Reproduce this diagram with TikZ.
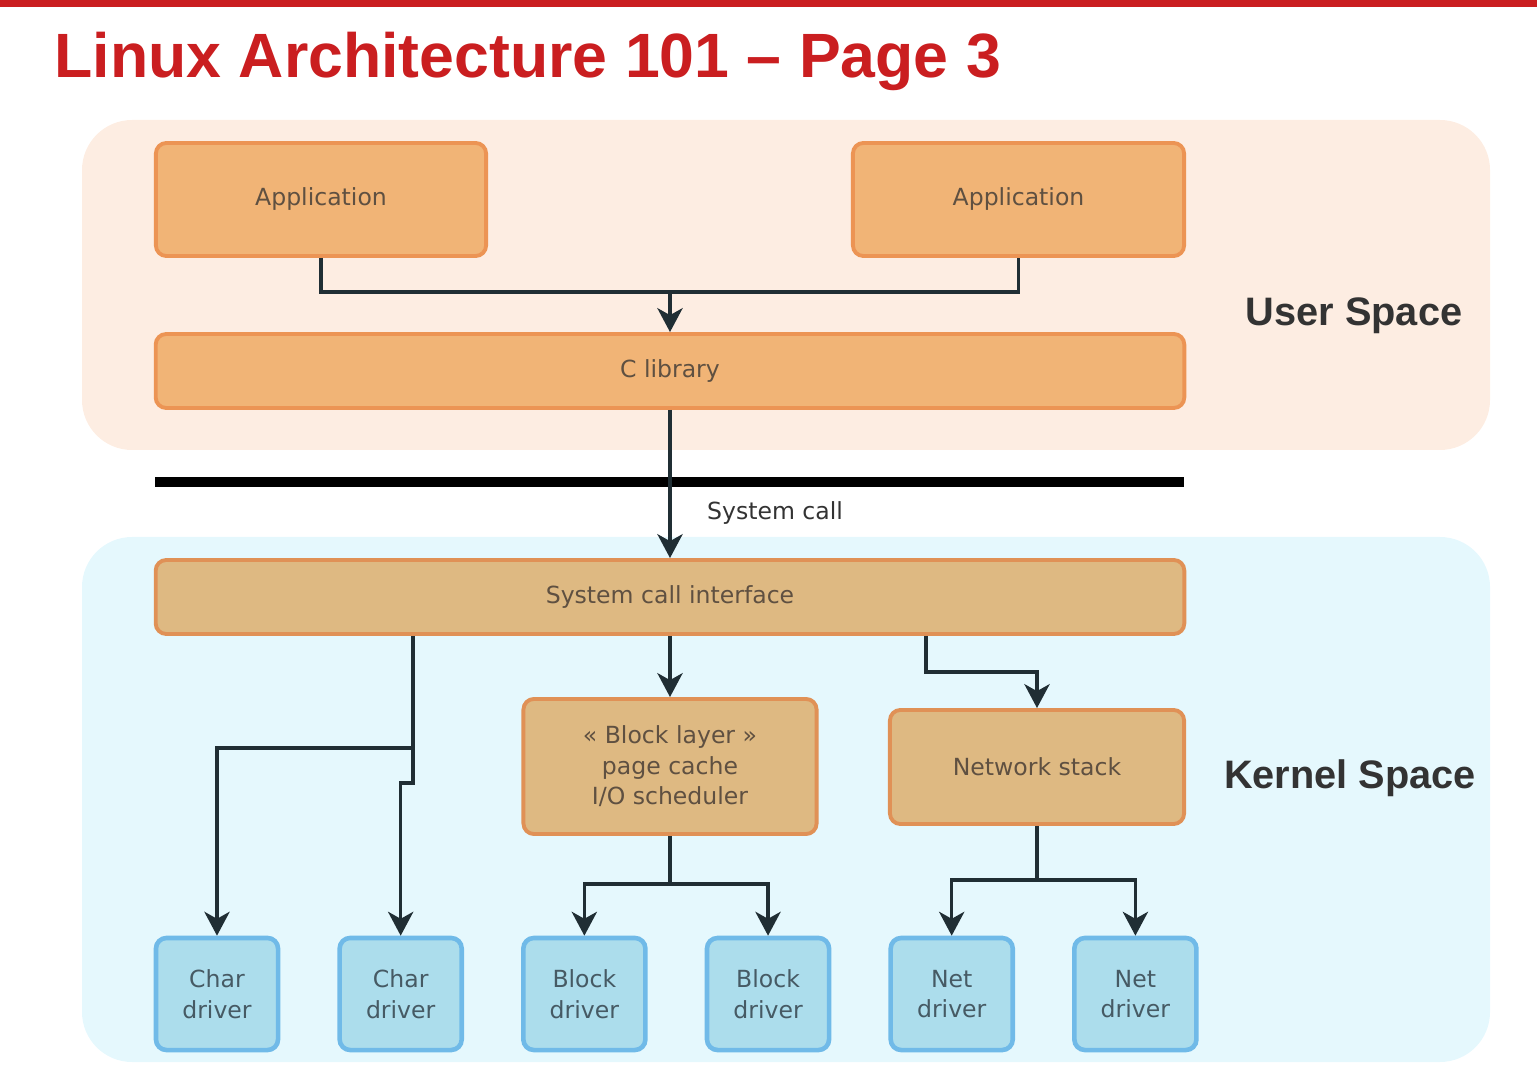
\documentclass[tikz,border=0pt]{standalone}
\usepackage{fontspec}
\setmainfont{DejaVu Sans}
\newfontfamily\headfont{Liberation Sans}
\usetikzlibrary{arrows.meta,positioning}

\definecolor{titlered}{RGB}{202,30,32}
\definecolor{userbg}{RGB}{253,237,226}
\definecolor{kernelbg}{RGB}{229,248,253}
\definecolor{appfill}{RGB}{241,180,118}
\definecolor{appedge}{RGB}{236,148,84}
\definecolor{kernfill}{RGB}{222,185,130}
\definecolor{kernedge}{RGB}{224,145,86}
\definecolor{drvfill}{RGB}{172,221,236}
\definecolor{drvedge}{RGB}{112,186,232}
\definecolor{boxtext}{RGB}{95,80,65}
\definecolor{drvtext}{RGB}{70,90,100}
\definecolor{connline}{RGB}{32,46,52}

\begin{document}
\begin{tikzpicture}[x=0.01cm,y=-0.01cm,node distance=0.57cm,
   >={Stealth[length=6.8pt,width=7.2pt,inset=2pt]}]
   \tikzstyle{every node}=[font=\fontsize{6.7}{8.7}\selectfont,align=center,inner sep=0pt]
   \tikzstyle{userbox}=[draw=appedge,fill=appfill,line width=1.1pt,rounded corners=3pt,text=boxtext]
   \tikzstyle{kernbox}=[draw=kernedge,fill=kernfill,line width=1.1pt,rounded corners=3pt,text=boxtext]
   \tikzstyle{driver}=[draw=drvedge,fill=drvfill,line width=1.3pt,rounded corners=3pt,text=drvtext,
                       minimum width=1.22cm,minimum height=1.12cm]
   \tikzstyle{conn}=[draw=connline,line width=0.9pt]
   \tikzstyle{spacelabel}=[font=\headfont\bfseries\fontsize{11.3}{13}\selectfont,text=black!80]

   \useasboundingbox (0,0) rectangle (1537,1089);
   \fill[titlered] (0,0) rectangle (1537,7);
   \node[anchor=base west,font=\headfont\bfseries\fontsize{17.8}{20}\selectfont,text=titlered]
        (title) at (54,78) {Linux Architecture 101 – Page 3};

   % panels
   \fill[userbg,rounded corners=0.5cm] (82,120) rectangle (1490,450);
   \fill[kernelbg,rounded corners=0.5cm] (82,537) rectangle (1490,1062);

   \node[spacelabel] (userlbl)   at (1354,316) {User Space};
   \node[spacelabel] (kernellbl) at (1350,778) {Kernel Space};

   % user space
   \node[userbox,minimum width=3.30cm,minimum height=1.13cm] (app1) at (321,199.5)  {Application};
   \node[userbox,minimum width=3.31cm,minimum height=1.13cm] (app2) at (1018.5,199.5) {Application};
   \node[userbox,minimum width=10.28cm,minimum height=0.74cm] (clib) at (670,371) {C library};

   \draw[line width=3.1pt] (155,482) -- (1184,482);

   % kernel space
   \node[kernbox,minimum width=10.28cm,minimum height=0.74cm] (sci) at (670,597) {System call interface};
   \node[kernbox,minimum width=2.93cm,minimum height=1.35cm] (block) at (670,766.5)
        {« Block layer »\\page cache\\I/O scheduler};
   \node[kernbox,minimum width=2.94cm,minimum height=1.14cm] (net) at (1037,767) {Network stack};

   \node[driver] (char1) at (217,994) {Char\\driver};
   \node[driver] (char2) [right=of char1] {Char\\driver};
   \node[driver] (blk1)  [right=of char2] {Block\\driver};
   \node[driver] (blk2)  [right=of blk1]  {Block\\driver};
   \node[driver] (net1)  [right=of blk2]  {Net\\driver};
   \node[driver] (net2)  [right=of net1]  {Net\\driver};

   \node[text=black!80] (sclabel) at (775,513) {System call};

   \coordinate (ujoin)      at (670,292);
   \coordinate (netbranch)  at (926,672);
   \coordinate (charsplit)  at (413,748);
   \coordinate (charjog)    at (413,783);
   \coordinate (blocksplit) at (670,884);
   \coordinate (netsplit)   at (1037,880);

   \draw[conn] (app1.south) |- (ujoin) -| (app2.south);
   \draw[conn,->] (ujoin) -- (clib.north);
   \draw[conn,->] (clib.south) -- (sci.north);
   \draw[conn,->] (sci.south) -- (block.north);
   \draw[conn,->] (sci.south -| netbranch) -- (netbranch) -| (net.north);
   \draw[conn,->] (sci.south -| charsplit) -- (charsplit) -| (char1.north);
   \draw[conn,->] (charsplit) -- (charjog) -| (char2.north);
   \draw[conn] (block.south) -- (blocksplit);
   \draw[conn,->] (blocksplit) -| (blk1.north);
   \draw[conn,->] (blocksplit) -| (blk2.north);
   \draw[conn] (net.south) -- (netsplit);
   \draw[conn,->] (netsplit) -| (net1.north);
   \draw[conn,->] (netsplit) -| (net2.north);
\end{tikzpicture}
\end{document}
